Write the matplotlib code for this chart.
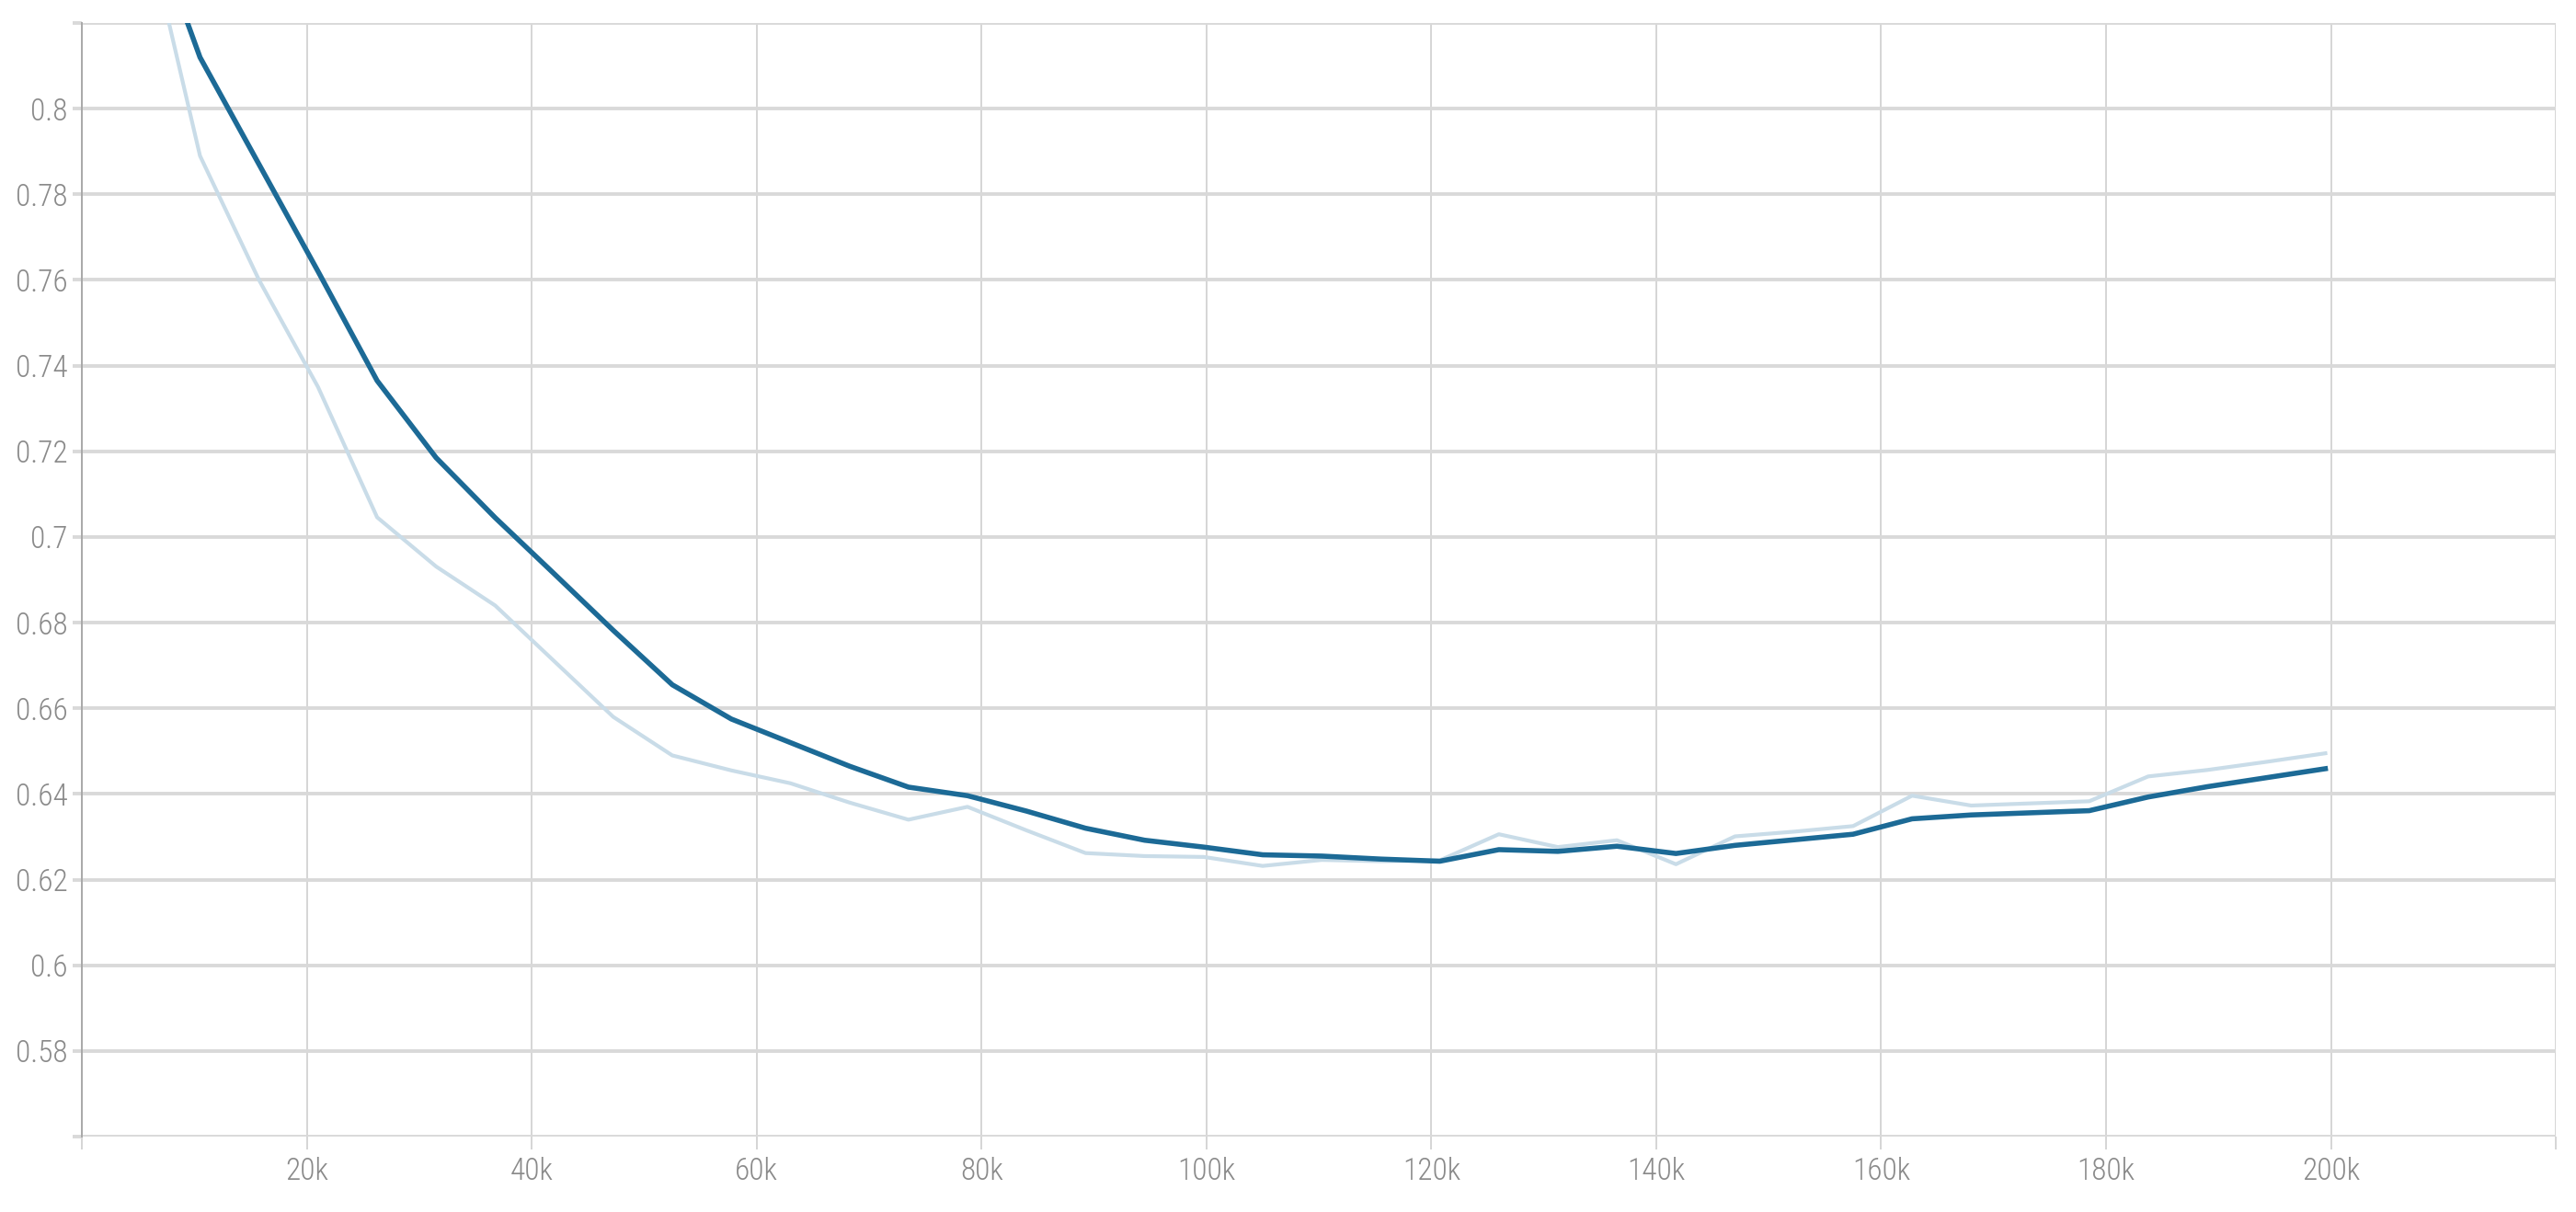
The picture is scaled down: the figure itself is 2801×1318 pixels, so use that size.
import matplotlib
matplotlib.use('Agg')
import matplotlib.pyplot as plt
from matplotlib import font_manager
from matplotlib.ticker import FuncFormatter

# training steps (x) and the raw / smoothed values
steps = [5250, 10500, 15750, 21000, 26250, 31500, 36750, 42000, 47250, 52500,
         57750, 63000, 68250, 73500, 78750, 84000, 89250, 94500, 99750, 105000,
         110250, 115500, 120750, 126000, 131250, 136500, 141750, 147000, 152250, 157500,
         162750, 168000, 173250, 178500, 183750, 189000, 194250, 199500]

raw = [0.848, 0.789, 0.760, 0.735, 0.7046, 0.6931, 0.684, 0.671, 0.658, 0.649,
       0.6455, 0.6425, 0.638, 0.634, 0.637, 0.6315, 0.6262, 0.6255, 0.6253, 0.6232,
       0.6246, 0.6243, 0.6245, 0.6306, 0.6276, 0.6292, 0.6236, 0.6301, 0.6312, 0.6325,
       0.6396, 0.6373, 0.6378, 0.6383, 0.6441, 0.6456, 0.6475, 0.6495]

smooth = [0.850, 0.812, 0.787, 0.762, 0.7365, 0.7185, 0.7045, 0.6914, 0.6782, 0.6655,
          0.6575, 0.652, 0.6465, 0.6416, 0.6396, 0.636, 0.632, 0.6292, 0.6276, 0.6258,
          0.6255, 0.6248, 0.6243, 0.627, 0.6266, 0.6278, 0.6261, 0.628, 0.6293, 0.6306,
          0.6342, 0.6351, 0.6356, 0.6361, 0.6393, 0.6417, 0.6438, 0.6459]

yticks = [0.56, 0.58, 0.60, 0.62, 0.64, 0.66, 0.68, 0.70, 0.72, 0.74, 0.76, 0.78, 0.80, 0.82]
xticks = [0, 20000, 40000, 60000, 80000, 100000, 120000, 140000, 160000, 180000, 200000, 220000]

# narrow tick font if there is one, otherwise plain DejaVu
names = set(f.name for f in font_manager.fontManager.ttflist)
narrow = [n for n in ['Liberation Sans Narrow', 'Roboto Condensed', 'Open Sans Condensed'] if n in names]
if narrow:
    tickfont = font_manager.FontProperties(family=narrow[0], size=24, weight='light')
else:
    tickfont = font_manager.FontProperties(family='DejaVu Sans', size=22)

fig = plt.figure(figsize=(28.01, 13.18), dpi=100)
ax = fig.add_axes([0.0318, 0.0622, 0.9604, 0.9188])

ax.plot(steps, raw, color='#c9dce8', lw=3.0, zorder=3)
ax.plot(steps, smooth, color='#1c6a96', lw=4.0, zorder=4)

ax.set_xlim(0, 220000)
ax.set_ylim(0.56, 0.82)
ax.set_xticks(xticks)
ax.set_yticks(yticks)

def xfmt(v, pos):
    if v == 0 or v == 220000:
        return ''
    return '%dk' % int(v / 1000)

def yfmt(v, pos):
    if v < 0.57 or v > 0.81:
        return ''
    return '%g' % round(v, 2)

ax.xaxis.set_major_formatter(FuncFormatter(xfmt))
ax.yaxis.set_major_formatter(FuncFormatter(yfmt))

# grid: thick light horizontals, thin verticals
ax.grid(axis='y', color='#d9d9d9', lw=2.8, zorder=0)
ax.grid(axis='x', color='#d2d2d2', lw=1.3, zorder=0)

for s in ['top', 'right', 'bottom']:
    ax.spines[s].set_visible(False)
ax.spines['left'].set_color('#a8a8a8')
ax.spines['left'].set_linewidth(1.4)

ax.tick_params(axis='y', length=7, width=2.8, color='#d9d9d9',
               labelcolor='#8a8a8a', pad=4)
ax.tick_params(axis='x', length=10, width=1.3, color='#d2d2d2',
               labelcolor='#8a8a8a', pad=6)
for lab in ax.get_xticklabels() + ax.get_yticklabels():
    lab.set_fontproperties(tickfont)

fig.savefig('out.png', dpi=100, facecolor='white')
